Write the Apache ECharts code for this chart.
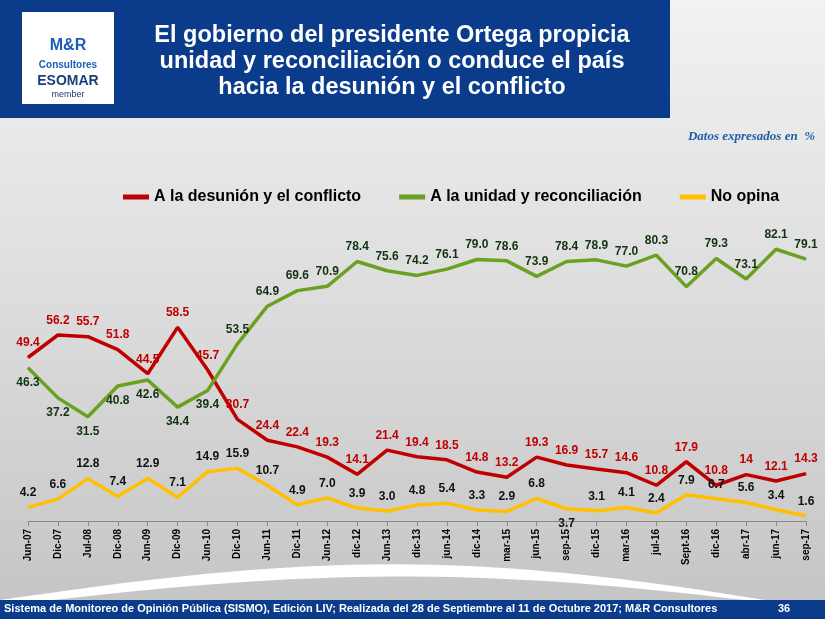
<!DOCTYPE html>
<html><head><meta charset="utf-8">
<script src="https://cdn.jsdelivr.net/npm/echarts@6/dist/echarts.min.js"></script>
<style>html,body{margin:0;padding:0}#c{width:825px;height:619px}</style>
</head><body><div id="c"></div>
<script>
const categories=["Jun-07","Dic-07","Jul-08","Dic-08","Jun-09","Dic-09","Jun-10","Dic-10","Jun-11","Dic-11","Jun-12","dic-12","Jun-13","dic-13","jun-14","dic-14","mar-15","jun-15","sep-15","dic-15","mar-16","jul-16","Sept-16","dic-16","abr-17","jun-17","sep-17"];
const desunion=[49.4,56.2,55.7,51.8,44.5,58.5,45.7,30.7,24.4,22.4,19.3,14.1,21.4,19.4,18.5,14.8,13.2,19.3,16.9,15.7,14.6,10.8,17.9,10.8,14,12.1,14.3];
const unidad=[46.3,37.2,31.5,40.8,42.6,34.4,39.4,53.5,64.9,69.6,70.9,78.4,75.6,74.2,76.1,79.0,78.6,73.9,78.4,78.9,77.0,80.3,70.8,79.3,73.1,82.1,79.1];
const noOpina=[4.2,6.6,12.8,7.4,12.9,7.1,14.9,15.9,10.7,4.9,7.0,3.9,3.0,4.8,5.4,3.3,2.9,6.8,3.7,3.1,4.1,2.4,7.9,6.7,5.6,3.4,1.6];
const names=["A la desunión y el conflicto","A la unidad y reconciliación","No opina"];
const chart=echarts.init(document.getElementById('c'));
const fmt=p=>(p.seriesIndex===0&&p.value===14)?'14':p.value.toFixed(1);
const lbl=(c)=>({show:true,position:'top',distance:8,color:c,fontWeight:'bold',fontSize:12,fontFamily:'Arial',formatter:fmt});
const swoosh=[];
for(let i=0;i<=40;i++){const x=i*825/40;swoosh.push([x,600-45*Math.sin(Math.PI*i/40)*0.9+10*i/40]);}
for(let i=40;i>=0;i--){const x=i*825/40;swoosh.push([x,606-35*Math.sin(Math.PI*i/40)*0.9+4*i/40]);}
const below=(arr,idx)=>arr.map((v,i)=>idx.includes(i)?{value:v,label:{position:'bottom'}}:v);
const mk=(name,data,col,lc)=>({name,type:'line',data,symbol:'circle',symbolSize:1,showSymbol:true,lineStyle:{width:3.5,color:col},itemStyle:{color:col},label:lbl(lc),labelLayout:{hideOverlap:false}});
chart.setOption({
 backgroundColor:{type:'linear',x:0,y:0,x2:0,y2:1,colorStops:[{offset:0,color:'#f2f2f2'},{offset:0.5,color:'#dcdcdc'},{offset:1,color:'#c4c4c4'}]},
 graphic:[
  {type:'polygon',shape:{points:swoosh},style:{fill:'#ffffff'},z:-1},
  {type:'rect',shape:{x:0,y:0,width:670,height:118},style:{fill:'#0b3c8c'}},
  {type:'rect',shape:{x:22,y:12,width:92,height:92},style:{fill:'#ffffff'}},
  {type:'text',style:{x:68,y:38,text:'M&R',font:'bold 16px Arial',fill:'#1a5fb4',align:'center'}},
  {type:'text',style:{x:68,y:60,text:'Consultores',font:'bold 10px Arial',fill:'#1a5fb4',align:'center'}},
  {type:'text',style:{x:68,y:74,text:'ESOMAR',font:'bold 14px Arial',fill:'#1a3f7a',align:'center'}},
  {type:'text',style:{x:68,y:90,text:'member',font:'9px Arial',fill:'#1a3f7a',align:'center'}},
  {type:'text',style:{x:392,y:23,text:'El gobierno del presidente Ortega propicia\nunidad y reconciliación o conduce el país\nhacia la desunión y el conflicto',font:'bold 23.5px Arial',fill:'#ffffff',align:'center',lineHeight:26}},
  {type:'text',style:{x:815,y:130,text:'Datos expresados en  %',font:'italic bold 13px "Liberation Serif"',fill:'#1f5fa8',align:'right'}},
  {type:'rect',shape:{x:0,y:600,width:825,height:19},style:{fill:'#0b3c8c'}},
  {type:'text',style:{x:4,y:603,text:'Sistema de Monitoreo de Opinión Pública (SISMO), Edición LIV; Realizada del 28 de Septiembre al 11 de Octubre 2017; M&R Consultores',font:'bold 11px Arial',fill:'#ffffff'}},
  {type:'text',style:{x:778,y:603,text:'36',font:'bold 11px Arial',fill:'#ffffff'}}
 ],
 legend:{top:184,left:118,itemGap:38,itemWidth:26,itemHeight:5,icon:'rect',textStyle:{fontSize:16,fontWeight:'bold',fontFamily:'Arial',color:'#000'},data:names},
 grid:{left:28,right:19,top:190,bottom:98},
 xAxis:{type:'category',data:categories,boundaryGap:false,axisLine:{lineStyle:{color:'#888'}},axisTick:{show:true,alignWithLabel:true},
  axisLabel:{rotate:90,fontWeight:'bold',fontSize:10,color:'#000',fontFamily:'Arial',interval:0}},
 yAxis:{type:'value',min:0,max:100,show:false,splitLine:{show:false}},
 series:[mk(names[0],desunion,'#c00000','#c00000'),mk(names[1],below(unidad,[0,1,2,3,4,5,6]),'#6aa121','#113311'),mk(names[2],below(noOpina,[18]),'#ffc000','#111')]
});
</script></body></html>
